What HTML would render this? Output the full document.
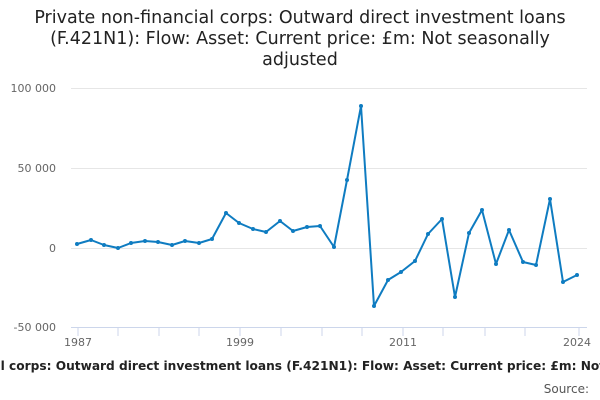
<!DOCTYPE html>
<html><head><style>
body{margin:0;width:600px;height:400px;overflow:hidden;background:#fff;font-family:"DejaVu Sans","Liberation Sans",sans-serif;position:relative}
.t{position:absolute;top:8px;left:0;width:600px;text-align:center;font-size:17.5px;line-height:21px;color:#222}
.w{position:absolute;top:0;left:0;width:600px;height:400px;overflow:hidden}
.b{position:absolute;top:359px;left:-696px;width:2000px;text-align:center;font-size:12.2px;font-weight:bold;color:#222;white-space:nowrap}
.s{position:absolute;top:382px;right:11px;font-size:12px;color:#555}
</style></head><body>
<div class="t">Private non-financial corps: Outward direct investment loans<br>(F.421N1): Flow: Asset: Current price: £m: Not seasonally<br>adjusted</div>
<svg width="600" height="400" style="position:absolute;left:0;top:0" font-family="DejaVu Sans, sans-serif">
<g stroke="#e6e6e6" stroke-width="1">
<line x1="71" x2="587" y1="88.5" y2="88.5"/><line x1="71" x2="587" y1="168.5" y2="168.5"/><line x1="71" x2="587" y1="248.5" y2="248.5"/>
</g>
<line x1="71" x2="587" y1="327.5" y2="327.5" stroke="#ccd6eb"/>
<g stroke="#ccd6eb">
<line x1="78" x2="78" y1="327" y2="336"/><line x1="118" x2="118" y1="327" y2="336"/><line x1="159" x2="159" y1="327" y2="336"/><line x1="199" x2="199" y1="327" y2="336"/><line x1="240" x2="240" y1="327" y2="336"/><line x1="281" x2="281" y1="327" y2="336"/><line x1="322" x2="322" y1="327" y2="336"/><line x1="362" x2="362" y1="327" y2="336"/><line x1="403" x2="403" y1="327" y2="336"/><line x1="443" x2="443" y1="327" y2="336"/><line x1="485" x2="485" y1="327" y2="336"/><line x1="525" x2="525" y1="327" y2="336"/><line x1="579" x2="579" y1="327" y2="336"/>
</g>
<g font-size="11" fill="#666" text-anchor="end">
<text x="56" y="92">100 000</text><text x="56" y="172">50 000</text><text x="56" y="252">0</text><text x="56" y="331">-50 000</text>
</g>
<g font-size="11" fill="#666" text-anchor="middle">
<text x="78" y="346">1987</text><text x="240" y="346">1999</text><text x="403" y="346">2011</text><text x="577" y="346">2024</text>
</g>
<polyline fill="none" stroke="#0f7cc1" stroke-width="2" stroke-linejoin="round" points="77,244 91,240 104,245 118,248 131,243 145,241 158,242 172,245 185,241 199,243 212,239 226,213 239,223 253,229 266,232 280,221 293,231 307,227 320,226 334,247 347,180 361,106 374,306 388,280 401,272 415,261 428,234 442,219 455,297 469,233 482,210 496,264 509,230 523,262 536,265 550,199 563,282 577,275"/>
<g fill="#0f7cc1">
<circle cx="77" cy="244" r="2"/><circle cx="91" cy="240" r="2"/><circle cx="104" cy="245" r="2"/><circle cx="118" cy="248" r="2"/><circle cx="131" cy="243" r="2"/><circle cx="145" cy="241" r="2"/><circle cx="158" cy="242" r="2"/><circle cx="172" cy="245" r="2"/><circle cx="185" cy="241" r="2"/><circle cx="199" cy="243" r="2"/><circle cx="212" cy="239" r="2"/><circle cx="226" cy="213" r="2"/><circle cx="239" cy="223" r="2"/><circle cx="253" cy="229" r="2"/><circle cx="266" cy="232" r="2"/><circle cx="280" cy="221" r="2"/><circle cx="293" cy="231" r="2"/><circle cx="307" cy="227" r="2"/><circle cx="320" cy="226" r="2"/><circle cx="334" cy="247" r="2"/><circle cx="347" cy="180" r="2"/><circle cx="361" cy="106" r="2"/><circle cx="374" cy="306" r="2"/><circle cx="388" cy="280" r="2"/><circle cx="401" cy="272" r="2"/><circle cx="415" cy="261" r="2"/><circle cx="428" cy="234" r="2"/><circle cx="442" cy="219" r="2"/><circle cx="455" cy="297" r="2"/><circle cx="469" cy="233" r="2"/><circle cx="482" cy="210" r="2"/><circle cx="496" cy="264" r="2"/><circle cx="509" cy="230" r="2"/><circle cx="523" cy="262" r="2"/><circle cx="536" cy="265" r="2"/><circle cx="550" cy="199" r="2"/><circle cx="563" cy="282" r="2"/><circle cx="577" cy="275" r="2"/>
</g>
</svg>
<div class="w"><div class="b">Private non-financial corps: Outward direct investment loans (F.421N1): Flow: Asset: Current price: £m: Not seasonally adjusted</div></div>
<div class="s">Source:</div>
</body></html>
